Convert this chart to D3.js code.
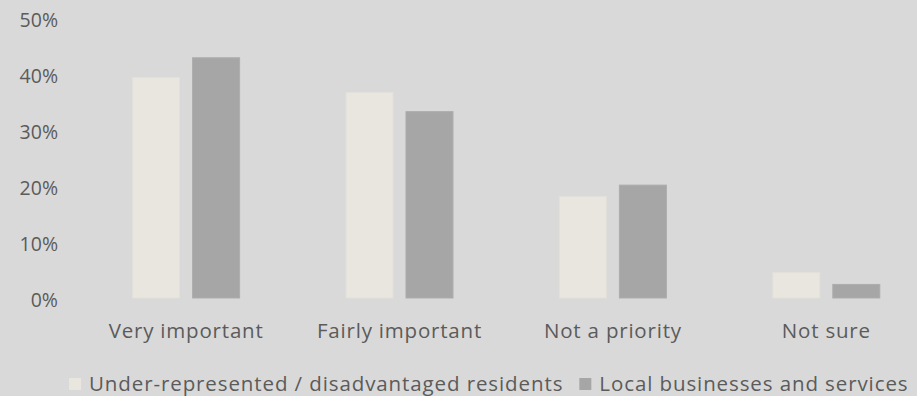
<!DOCTYPE html>
<html>
<head>
<meta charset="utf-8">
<script src="https://cdn.jsdelivr.net/npm/d3@7"></script>
<style>
  html, body { margin: 0; padding: 0; background: #d9d9d9; }
  svg { display: block; }
  text { font-family: "Open Sans", sans-serif; fill: #5b5b5b; }
</style>
</head>
<body>
<svg id="chart" width="917" height="396"></svg>
<script>
// Survey responses: share of respondents per answer, by group
const categories = ["Very important", "Fairly important", "Not a priority", "Not sure"];
const series = ["Under-represented / disadvantaged residents", "Local businesses and services"];
const residentsValues = [39.5, 36.8, 18.3, 4.7];
const businessValues = [43.0, 33.4, 20.3, 2.6];
const yTicks = [0, 10, 20, 30, 40, 50];

const colors = ["#e8e6df", "#a6a6a6"];
const strokes = ["#e2e0da", "#adadad"];
const FONT = "'Open Sans', sans-serif";

const svg = d3.select("#chart");

const y = d3.scaleLinear().domain([0, 50]).range([298.5, 18]);
const x = d3.scaleBand().domain(categories).range([79.4, 933]).padding(0);
const xInner = d3.scaleBand().domain(series)
  .range([x.bandwidth() / 2 - 54, x.bandwidth() / 2 + 54])
  .paddingInner(0.2).paddingOuter(0);

const rows = categories.map((c, i) => ({
  cat: c,
  vals: [residentsValues[i], businessValues[i]]
}));

// Y axis labels only
const yAxis = d3.axisLeft(y).tickValues(yTicks).tickFormat(d => d + "%").tickSize(0).tickPadding(0);
const yg = svg.append("g").attr("transform", "translate(58,0)").call(yAxis);
yg.select(".domain").remove();
yg.selectAll("text")
  .attr("font-size", 19.5)
  .attr("dy", "0.42em")
  .style("font-family", FONT)
  .attr("fill", "#5b5b5b");

// Grouped bars
const groups = svg.append("g").selectAll("g")
  .data(rows).join("g")
  .attr("transform", d => `translate(${x(d.cat)},0)`);

groups.selectAll("rect")
  .data(d => d.vals.map((v, k) => ({ s: series[k], v, k })))
  .join("rect")
  .attr("x", d => xInner(d.s) + 0.5)
  .attr("y", d => y(d.v) + 0.5)
  .attr("width", xInner.bandwidth() - 1)
  .attr("height", d => y(0) - y(d.v) - 1)
  .attr("fill", d => colors[d.k])
  .attr("stroke", d => strokes[d.k])
  .attr("stroke-width", 1);

// Category labels
const xAxis = d3.axisBottom(x).tickSize(0).tickPadding(0);
const xg = svg.append("g").attr("transform", "translate(0,338.3)").call(xAxis);
xg.select(".domain").remove();
xg.selectAll("text")
  .attr("dy", 0)
  .attr("y", 0)
  .attr("font-size", 20.5)
  .attr("letter-spacing", 0.8)
  .style("font-family", FONT)
  .attr("fill", "#5b5b5b");

// Legend
const legend = svg.append("g").attr("transform", "translate(69,0)");
let lx = 0;
series.forEach((s, k) => {
  legend.append("rect")
    .attr("x", lx).attr("y", 378)
    .attr("width", 12).attr("height", 12)
    .attr("fill", colors[k]);
  const t = legend.append("text")
    .attr("x", lx + 20).attr("y", 390.5)
    .attr("font-size", 20.5)
    .attr("letter-spacing", 0.9)
    .text(s);
  lx += 20 + t.node().getComputedTextLength() + 16;
});
</script>
</body>
</html>
